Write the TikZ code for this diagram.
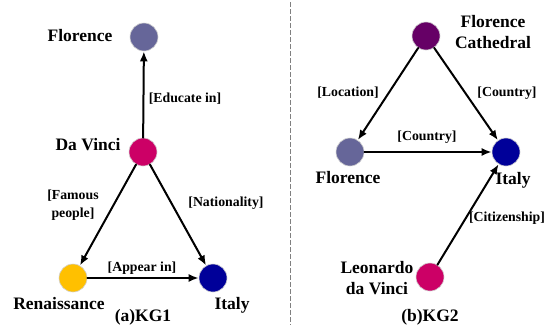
\documentclass[tikz,border=0pt]{standalone}
\usepackage{fontspec}
\setmainfont{Liberation Serif}
\usetikzlibrary{arrows.meta}
\definecolor{flor}{HTML}{666699}
\definecolor{vinci}{HTML}{CC0066}
\definecolor{renai}{HTML}{FFC000}
\definecolor{italy}{HTML}{000099}
\definecolor{cathe}{HTML}{660066}

\begin{document}
\begin{tikzpicture}[x=1pt, y=-1pt, line cap=round,
    ent/.style={circle, draw=black!18, line width=0.6pt, minimum size=28pt, inner sep=0pt},
    rel/.style={-{Latex[length=10pt,width=8pt]}, line width=2pt},
    nm/.style={font=\bfseries\fontsize{17.5}{21}\selectfont, align=center, inner sep=0pt},
    lab/.style={font=\bfseries\fontsize{13.8}{18}\selectfont, align=center, inner sep=0pt}]
    % 왼쪽: KG1
    \useasboundingbox (0,0) rectangle (548,327);
    \node[ent, fill=flor]  (F1) at (144, 37) {};
    \node[ent, fill=vinci] (D1) at (143, 152) {};
    \node[ent, fill=renai] (R1) at (73, 278) {};
    \node[ent, fill=italy] (I1) at (213, 278) {};

    \node[nm] (tF1) at (80, 36) {Florence};
    \node[nm] (tD1) at (88, 145) {Da Vinci};
    \node[nm] (tR1) at (59, 304) {Renaissance};
    \node[nm] (tI1) at (232, 305) {Italy};
    \node[nm] (cap1) at (143, 317) {(a)KG1};

    \draw[rel] (D1) -- (F1);
    \draw[rel] (D1) -- (R1);
    \draw[rel] (D1) -- (I1);
    \draw[rel] (R1) -- (I1);

    \node[lab] (eEdu) at (185, 99) {[Educate in]};
    \node[lab] (eFam) at (73, 205) {[Famous\\people]};
    \node[lab] (eNat) at (226, 203) {[Nationality]};
    \node[lab] (eApp) at (142, 268) {[Appear in]};

    % 구분선
    \coordinate (sepT) at (290, 2);
    \coordinate (sepB) at (290, 325);
    \draw[gray, line width=1pt, dash pattern=on 4.5pt off 2.5pt, line cap=butt] (sepT) -- (sepB);

    % 오른쪽: KG2
    \node[ent, fill=cathe] (C2) at (426, 36) {};
    \node[ent, fill=flor]  (F2) at (350, 152) {};
    \node[ent, fill=italy] (I2) at (506, 152) {};
    \node[ent, fill=vinci] (L2) at (430, 277) {};

    \node[nm] (tC2) at (493, 32) {Florence\\Cathedral};
    \node[nm] (tF2) at (348, 178) {Florence};
    \node[nm] (tI2) at (513, 180) {Italy};
    \node[nm] (tL2) at (377, 278) {Leonardo\\da Vinci};
    \node[nm] (cap2) at (430, 317) {(b)KG2};

    \draw[rel] (C2) -- (F2);
    \draw[rel] (C2) -- (I2);
    \draw[rel] (F2) -- (I2);
    \draw[rel] (L2) -- (I2);

    \node[lab] (eLoc) at (348, 93) {[Location]};
    \node[lab] (eCo1) at (507, 93) {[Country]};
    \node[lab] (eCo2) at (427, 137) {[Country]};
    \node[lab] (eCit) at (507, 218) {[Citizenship]};
\end{tikzpicture}
\end{document}
